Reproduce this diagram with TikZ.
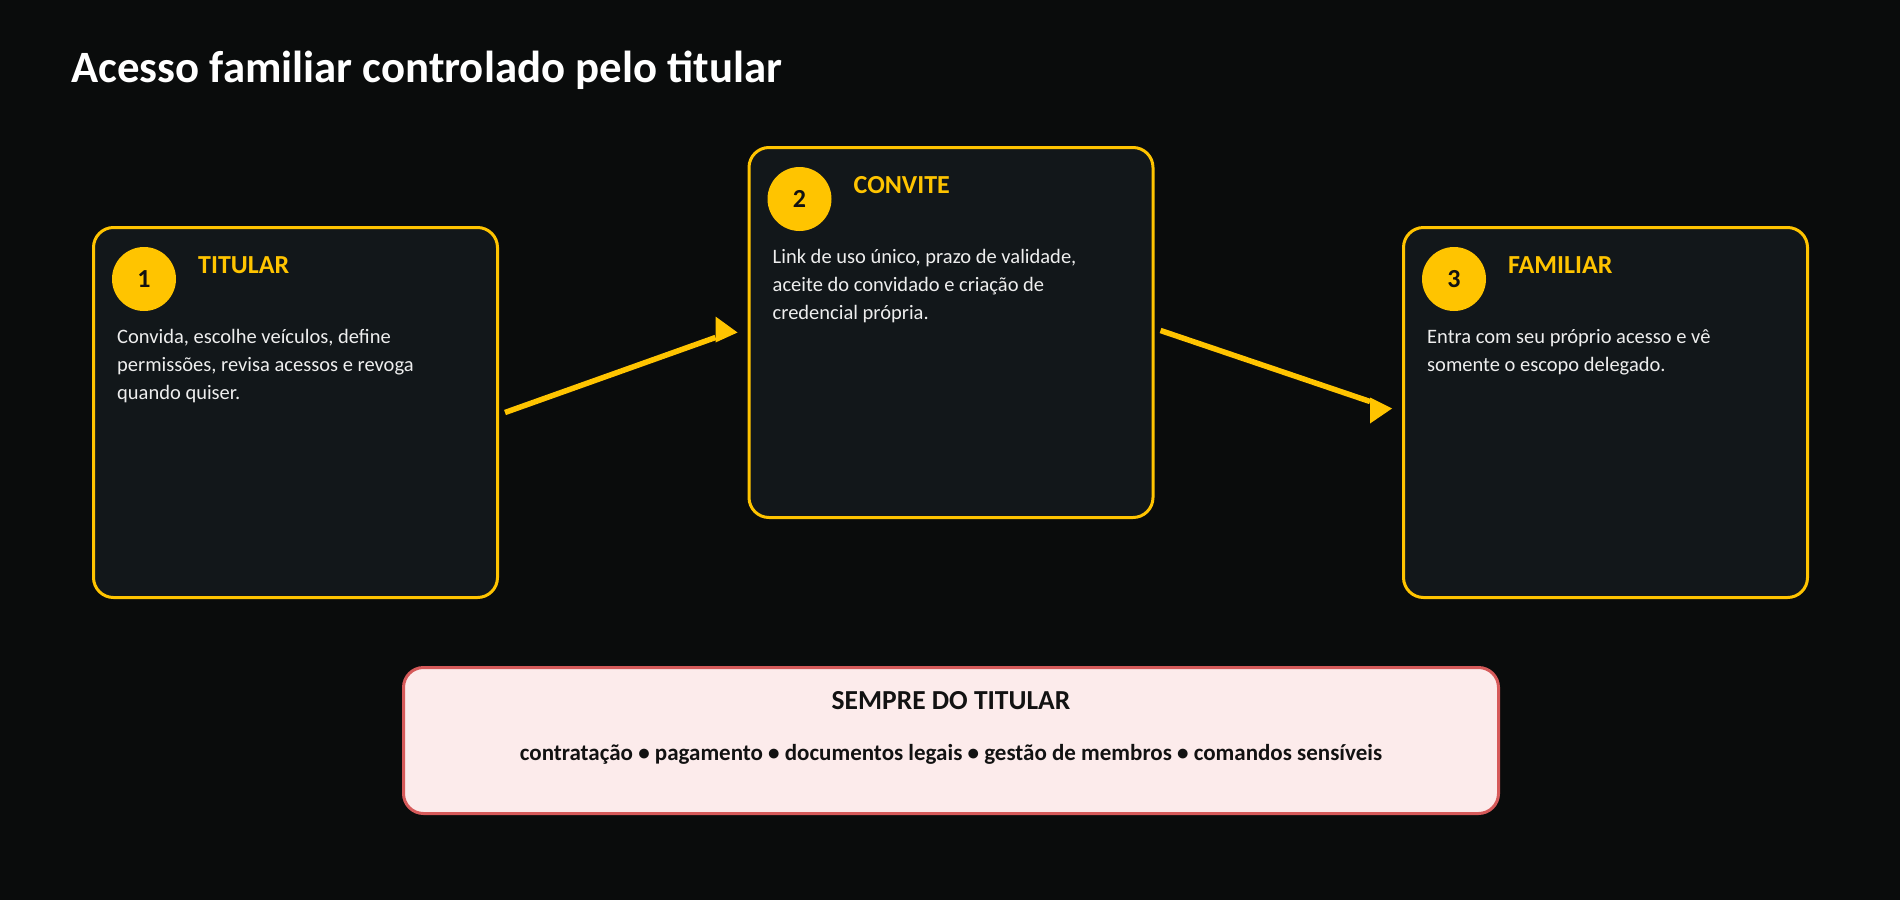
\documentclass[tikz,border=0pt]{standalone}
\usepackage{fontspec}
\setmainfont{Carlito}
\usetikzlibrary{calc}
\definecolor{bgc}{HTML}{0A0C0C}
\definecolor{cardbg}{HTML}{12171A}
\definecolor{yel}{HTML}{FFC400}
\definecolor{bodyc}{HTML}{EEEEEE}
\definecolor{darkc}{HTML}{121212}
\definecolor{pinkbg}{HTML}{FCEBEB}
\definecolor{redc}{HTML}{D65A5A}
\tikzset{
  card/.style={draw=yel, line width=3pt, fill=cardbg, rounded corners=20pt,
    minimum width=404pt, minimum height=370pt, inner sep=0pt},
  badge/.style={circle, fill=yel, minimum size=64pt, inner sep=0pt,
    text=darkc, font=\fontsize{26}{26}\selectfont\bfseries},
  heading/.style={anchor=base west, inner sep=0pt, text=yel,
    font=\fontsize{26}{26}\selectfont\bfseries},
  bodytext/.style={anchor=north west, inner sep=0pt, align=left, text=bodyc,
    font=\fontsize{20.5}{28}\selectfont},
  conn/.style={draw=yel, line width=5.5pt},
  tiphead/.style={fill=yel},
  notebox/.style={draw=redc, line width=3pt, fill=pinkbg, rounded corners=20pt,
    minimum width=1095pt, minimum height=146pt, inner sep=0pt},
}
\begin{document}
\begin{tikzpicture}[x=1pt,y=-1pt]
\fill[bgc] (0,0) rectangle (1900,900);
\useasboundingbox (0,0) rectangle (1900,900);

\node[anchor=base west, inner sep=0pt, text=white, font=\fontsize{44.8}{44.8}\selectfont\bfseries] (title) at (71,82) {Acesso familiar controlado pelo titular};

% cards
\node[card] (c1) at (295.5,412.5) {};
\node[card] (c2) at (951,332.5) {};
\node[card] (c3) at (1605.5,412.5) {};

\node[badge] (n1) at ($(c1.north west)+(52,53)$) {1};
\node[badge] (n2) at ($(c2.north west)+(52,53)$) {2};
\node[badge] (n3) at ($(c3.north west)+(52,53)$) {3};

\node[heading] (h1) at ($(c1.north west)+(106,47)$) {TITULAR};
\node[heading] (h2) at ($(c2.north west)+(106,47)$) {CONVITE};
\node[heading] (h3) at ($(c3.north west)+(106,47)$) {FAMILIAR};

\node[bodytext] (t1) at ($(c1.north west)+(25,97.4)$) {\strut Convida, escolhe veículos, define\\permissões, revisa acessos e revoga\\quando quiser.};
\node[bodytext] (t2) at ($(c2.north west)+(25,97.4)$) {\strut Link de uso único, prazo de validade,\\aceite do convidado e criação de\\credencial própria.};
\node[bodytext] (t3) at ($(c3.north west)+(25,97.4)$) {\strut Entra com seu próprio acesso e vê\\somente o escopo delegado.};

% connectors
\coordinate (a1s) at ($(c1.east)+(6,0)$);
\coordinate (a1e) at ($(c2.west)+(-32,5)$);
\coordinate (a1t) at ($(c2.west)+(-10,0)$);
\draw[conn] (a1s) -- (a1e);
\fill[tiphead] (a1t) -- ++(-22,-16) -- ++(0,26) -- cycle;

\coordinate (a2s) at ($(c2.east)+(6,-2)$);
\coordinate (a2e) at ($(c3.west)+(-32,-11)$);
\coordinate (a2t) at ($(c3.west)+(-10,-4)$);
\draw[conn] (a2s) -- (a2e);
\fill[tiphead] (a2t) -- ++(-22,-11) -- ++(0,26) -- cycle;

% note box
\node[notebox] (nb) at (951,740.5) {};
\node[anchor=base, inner sep=0pt, text=darkc, font=\fontsize{27.5}{27.5}\selectfont\bfseries] (nbt) at (951,709) {SEMPRE DO TITULAR};
\node[anchor=base, inner sep=0pt, text=darkc, font=\fontsize{23}{23}\selectfont\bfseries] (nbl) at (951,760) {contratação • pagamento • documentos legais • gestão de membros • comandos sensíveis};
\end{tikzpicture}
\end{document}
